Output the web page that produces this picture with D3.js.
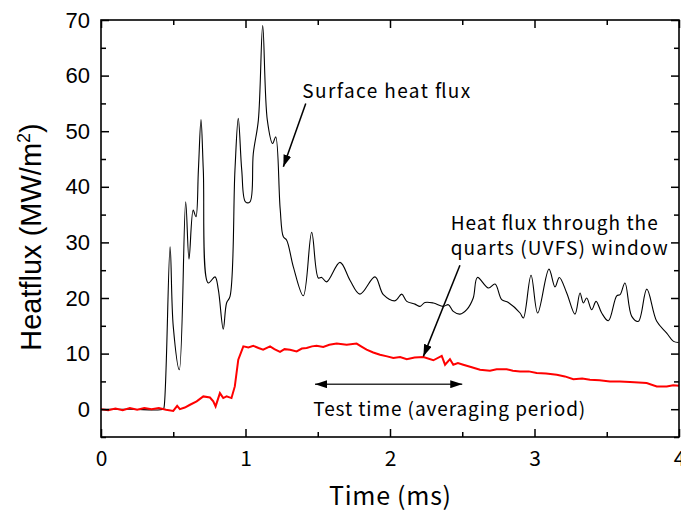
<!DOCTYPE html>
<html>
<head>
<meta charset="utf-8">
<script src="https://cdn.jsdelivr.net/npm/d3@7"></script>
<style>
    html, body { margin: 0; padding: 0; background: #fff; }
    svg { display: block; }
</style>
</head>
<body>
<div id="chart"></div>
<script>
// Data (time in ms, heat flux in MW/m2)
const surfaceTime = [0, 0.2, 0.43, 0.436, 0.478, 0.500, 0.542, 0.586, 0.609, 0.638, 0.657, 0.674, 0.692, 0.708, 0.742,
    0.789, 0.812, 0.846, 0.869, 0.893, 0.927, 0.950, 0.974, 1.000, 1.031, 1.054, 1.089, 1.119, 1.151, 1.188, 1.209,
    1.240, 1.262, 1.285, 1.331, 1.400, 1.458, 1.504, 1.527, 1.562, 1.654, 1.723, 1.792, 1.896, 1.954, 2.035, 2.081,
    2.116, 2.173, 2.208, 2.242, 2.300, 2.369, 2.404, 2.438, 2.484, 2.531, 2.576, 2.605, 2.681, 2.727, 2.773, 2.819,
    2.900, 2.923, 2.976, 3.022, 3.100, 3.142, 3.172, 3.223, 3.280, 3.315, 3.338, 3.361, 3.396, 3.426, 3.465, 3.511,
    3.569, 3.592, 3.626, 3.673, 3.719, 3.777, 3.846, 3.915, 3.962, 3.997];
const surfaceFlux = [0, 0, 0, 0.3, 29.2, 14.9, 7.1, 37.3, 27.0, 35.8, 34.6, 43, 52.1, 43, 22.7,
    23.8, 21.5, 14.4, 19.1, 20.3, 43, 52.3, 43, 37.3, 37.3, 46, 52, 69.0, 52, 47.8, 49.0,
    36, 31.0, 30.4, 25.6, 20.4, 31.8, 23.6, 23.7, 22.9, 26.4, 23.2, 20.7, 23.8, 20.6, 19.5, 20.7,
    19.4, 18.9, 18.5, 19.2, 19.1, 18.5, 18.8, 17.6, 17.1, 17.9, 20.0, 23.7, 21.8, 22.5, 19.7, 19.2,
    17.3, 16.4, 24.1, 17.3, 25.2, 22.0, 23.7, 20.9, 17.1, 20.9, 19.1, 20.0, 17.9, 19.4, 17.3, 15.9,
    20.4, 20.6, 22.7, 16.7, 15.8, 21.6, 15.8, 13.7, 12.2, 12.0];

const windowTime = [0, 0.05, 0.10, 0.15, 0.20, 0.25, 0.30, 0.35, 0.40, 0.45, 0.500, 0.527, 0.546, 0.58, 0.616, 0.662,
    0.708, 0.754, 0.777, 0.793, 0.823, 0.846, 0.869, 0.903, 0.926, 0.950, 0.985, 1.02, 1.054, 1.09, 1.122, 1.170, 1.20,
    1.239, 1.27, 1.308, 1.354, 1.39, 1.423, 1.46, 1.492, 1.538, 1.58, 1.631, 1.700, 1.769, 1.80, 1.838, 1.884, 1.931,
    1.98, 2.023, 2.07, 2.116, 2.17, 2.231, 2.300, 2.358, 2.381, 2.415, 2.438, 2.47, 2.507, 2.56, 2.623, 2.692, 2.738,
    2.807, 2.85, 2.900, 2.96, 3.015, 3.08, 3.154, 3.21, 3.269, 3.33, 3.384, 3.45, 3.522, 3.59, 3.661, 3.72, 3.776,
    3.846, 3.915, 3.96, 4.0];
const windowFlux = [0, -0.2, 0.1, -0.2, 0.2, -0.1, 0.2, 0, 0.2, -0.1, -0.3, 0.6, 0, 0.3, 0.8, 1.4,
    2.3, 2.1, 1.4, 0.5, 2.9, 2.0, 2.3, 2.0, 4.1, 8.9, 11.3, 11.1, 11.4, 11.0, 10.7, 11.3, 10.8,
    10.3, 10.8, 10.7, 10.4, 10.9, 11.0, 11.3, 11.4, 11.2, 11.6, 11.8, 11.6, 11.8, 11.3, 10.7, 10.2, 9.8,
    9.5, 9.2, 9.4, 9.0, 9.3, 9.4, 8.8, 9.6, 8.0, 9.0, 8.0, 8.3, 8.0, 7.6, 7.1, 6.9, 7.2,
    7.2, 6.9, 6.8, 6.8, 6.5, 6.4, 6.2, 5.9, 5.4, 5.5, 5.3, 5.2, 5.0, 5.0, 4.9, 4.8, 4.7,
    4.1, 4.1, 4.3, 4.2];

const xTicks = [0, 1, 2, 3, 4];
const yTicks = [0, 10, 20, 30, 40, 50, 60, 70];

// Annotations, in data units
const arrowLines = [
    { from: [1.417, 55.0], to: [1.262, 43.6] },
    { from: [2.484, 25.9], to: [2.231, 9.5] }
];
const testPeriod = [1.481, 2.50];

// Layout
const width = 681, height = 511;
const margin = { top: 20, right: 2, bottom: 74, left: 101 };

const svg = d3.select("#chart").append("svg")
    .attr("width", width)
    .attr("height", height);

const x = d3.scaleLinear().domain([0, 4]).range([margin.left, width - margin.right]);
const y = d3.scaleLinear().domain([-5, 70]).range([height - margin.bottom, margin.top]);

const defs = svg.append("defs");
defs.append("marker")
    .attr("id", "head")
    .attr("viewBox", "0 0 12 8")
    .attr("refX", 12).attr("refY", 4)
    .attr("markerWidth", 12).attr("markerHeight", 8)
    .attr("markerUnits", "userSpaceOnUse")
    .attr("orient", "auto-start-reverse")
    .append("path")
    .attr("d", "M0,0 L12,4 L0,8 Z")
    .attr("fill", "#000");

// Curves
const line = d3.line()
    .x(d => x(d[0]))
    .y(d => y(d[1]));

svg.append("path")
    .datum(surfaceTime.map((t, i) => [t, surfaceFlux[i]]))
    .attr("fill", "none")
    .attr("stroke", "#000")
    .attr("stroke-width", 1.1)
    .attr("d", line.curve(d3.curveCatmullRom.alpha(0.5)));

svg.append("path")
    .datum(windowTime.map((t, i) => [t, windowFlux[i]]))
    .attr("fill", "none")
    .attr("stroke", "#ff0000")
    .attr("stroke-width", 2)
    .attr("d", line.curve(d3.curveLinear));

// Axes: inward ticks on all four sides
function addAxis(axisFn, scale, transform, major, minor, showLabels) {
    const g = svg.append("g").attr("transform", transform);
    g.call(axisFn(scale).tickValues(minor).tickSize(-5).tickFormat(""));
    const m = svg.append("g").attr("transform", transform);
    m.call(axisFn(scale).tickValues(major).tickSize(-8).tickPadding(showLabels ? 18 : 0)
        .tickFormat(showLabels ? d3.format("d") : ""));
    [g, m].forEach(s => {
        s.select(".domain").remove();
        s.selectAll(".tick line").attr("stroke", "#000").attr("stroke-width", 1.5);
    });
    return m;
}

const xMinor = d3.range(0.5, 4, 1);
const yMinor = d3.range(-5, 70, 10);

const xAxis = addAxis(d3.axisBottom, x, `translate(0,${y(-5)})`, xTicks, xMinor, true);
xAxis.selectAll(".tick text")
    .attr("font-family", "'Noto Sans CJK JP', sans-serif")
    .attr("font-size", 21)
    .attr("fill", "#000")
    .attr("dy", "0.5em");
addAxis(d3.axisTop, x, `translate(0,${y(70)})`, xTicks, xMinor, false);

const yAxis = addAxis(d3.axisLeft, y, `translate(${x(0)},0)`, yTicks, yMinor, true);
yAxis.selectAll(".tick text")
    .attr("font-family", "'Liberation Sans', Arial, sans-serif")
    .attr("font-size", 22)
    .attr("fill", "#000")
    .attr("x", -11);
addAxis(d3.axisRight, y, `translate(${x(4)},0)`, yTicks, yMinor, false);

// Frame
svg.append("rect")
    .attr("x", x(0)).attr("y", y(70))
    .attr("width", x(4) - x(0)).attr("height", y(-5) - y(70))
    .attr("fill", "none")
    .attr("stroke", "#000")
    .attr("stroke-width", 1.6);

// Axis titles
svg.append("text")
    .attr("x", 329)
    .attr("y", 505)
    .attr("font-family", "'Noto Sans CJK JP', sans-serif")
    .attr("font-size", 25)
    .attr("textLength", 122)
    .attr("lengthAdjust", "spacing")
    .text("Time (ms)");

const yTitle = svg.append("text")
    .attr("transform", `translate(41,237) rotate(-90)`)
    .attr("text-anchor", "middle")
    .attr("font-family", "'Liberation Sans', Arial, sans-serif")
    .attr("font-size", 29);
yTitle.append("tspan").text("Heatflux (MW/m");
yTitle.append("tspan").attr("dy", -11).attr("font-size", 18).text("2");
yTitle.append("tspan").attr("dy", 11).text(")");

// Annotations
const noteFont = "'Noto Sans CJK JP', sans-serif";

function note(t, v, str, len) {
    svg.append("text")
        .attr("x", x(t)).attr("y", y(v))
        .attr("font-family", noteFont).attr("font-size", 19)
        .attr("textLength", len)
        .attr("lengthAdjust", "spacing")
        .text(str);
}

note(1.393, 55.9, "Surface heat flux", 168);
note(2.42, 32.2, "Heat flux through the", 207);
note(2.42, 27.7, "quarts (UVFS) window", 217);
note(1.469, -1.3, "Test time (averaging period)", 272);

svg.selectAll(".note-arrow")
    .data(arrowLines)
    .enter()
    .append("line")
    .attr("class", "note-arrow")
    .attr("x1", d => x(d.from[0])).attr("y1", d => y(d.from[1]))
    .attr("x2", d => x(d.to[0])).attr("y2", d => y(d.to[1]))
    .attr("stroke", "#000")
    .attr("stroke-width", 1.5)
    .attr("marker-end", "url(#head)");

svg.append("line")
    .attr("x1", x(testPeriod[0])).attr("x2", x(testPeriod[1]))
    .attr("y1", y(4.5)).attr("y2", y(4.5))
    .attr("stroke", "#333")
    .attr("stroke-width", 1.5)
    .attr("marker-start", "url(#head)")
    .attr("marker-end", "url(#head)");
</script>
</body>
</html>
